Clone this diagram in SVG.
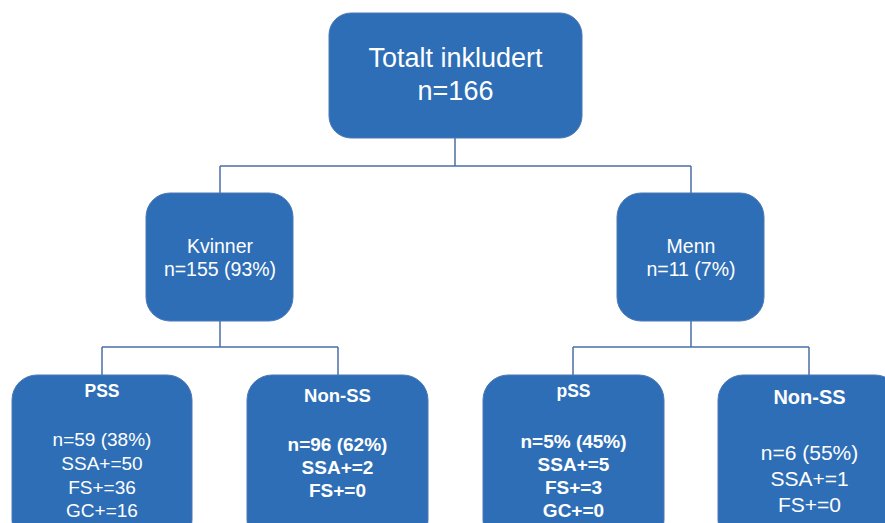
<svg xmlns="http://www.w3.org/2000/svg" width="885" height="523" viewBox="0 0 885 523">
<style>
.box{fill:#2E6EB6;stroke:#4A78B8;stroke-width:1}
.t{font-family:"Liberation Sans",Arial,sans-serif;fill:#ffffff;text-anchor:middle}
.b{font-weight:bold}
.conn{fill:none;stroke:#4A6FA8;stroke-width:1.5}
</style>
<rect width="885" height="523" fill="#ffffff"/>
<g id="connectors" class="conn">
<path d="M455,138 V166 M220,166 H691 M220,166 V193 M691,166 V193"/>
<path d="M220,321 V347 M102,347 H338 M102,347 V375 M338,347 V375"/>
<path d="M691,321 V347 M573,347 H809 M573,347 V375 M809,347 V375"/>
</g>
<g id="node-total">
<rect class="box" x="329" y="13" width="253" height="125" rx="22"/>
<text class="t" x="455.5" y="67" font-size="27">Totalt inkludert</text>
<text class="t" x="455.5" y="100" font-size="27">n=166</text>
</g>
<g id="node-kvinner">
<rect class="box" x="146" y="193" width="147" height="128" rx="24"/>
<text class="t" x="220" y="253" font-size="19.5">Kvinner</text>
<text class="t" x="220" y="276" font-size="19.5">n=155 (93%)</text>
</g>
<g id="node-menn">
<rect class="box" x="617" y="193" width="147" height="128" rx="24"/>
<text class="t" x="691" y="253" font-size="19.5">Menn</text>
<text class="t" x="691" y="276" font-size="19.5">n=11 (7%)</text>
</g>
<g id="node-pss-k">
<rect class="box" x="12" y="375" width="180" height="170" rx="25"/>
<text class="t b" x="102" y="397" font-size="17.5">PSS</text>
<text class="t" x="102" y="446" font-size="19">n=59 (38%)</text>
<text class="t" x="102" y="470" font-size="19">SSA+=50</text>
<text class="t" x="102" y="494" font-size="19">FS+=36</text>
<text class="t" x="102" y="517" font-size="19">GC+=16</text>
</g>
<g id="node-nonss-k">
<rect class="box" x="247" y="375" width="181" height="170" rx="25"/>
<text class="t b" x="337.5" y="402" font-size="18.5">Non-SS</text>
<text class="t b" x="337.5" y="451" font-size="19">n=96 (62%)</text>
<text class="t b" x="337.5" y="474" font-size="19">SSA+=2</text>
<text class="t b" x="337.5" y="497" font-size="19">FS+=0</text>
</g>
<g id="node-pss-m">
<rect class="box" x="483" y="375" width="181" height="170" rx="25"/>
<text class="t b" x="573.5" y="397" font-size="17.5">pSS</text>
<text class="t b" x="573.5" y="448" font-size="19">n=5% (45%)</text>
<text class="t b" x="573.5" y="471" font-size="19">SSA+=5</text>
<text class="t b" x="573.5" y="494" font-size="19">FS+=3</text>
<text class="t b" x="573.5" y="517" font-size="19">GC+=0</text>
</g>
<g id="node-nonss-m">
<rect class="box" x="718" y="375" width="182" height="170" rx="25"/>
<text class="t b" x="809.5" y="404" font-size="20">Non-SS</text>
<text class="t" x="809.5" y="460" font-size="21">n=6 (55%)</text>
<text class="t" x="809.5" y="486" font-size="21">SSA+=1</text>
<text class="t" x="809.5" y="512" font-size="21">FS+=0</text>
</g>
</svg>
